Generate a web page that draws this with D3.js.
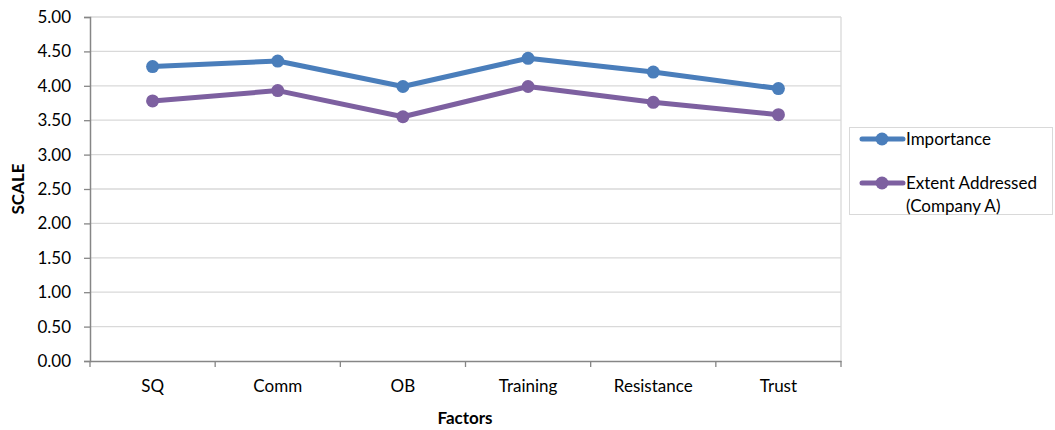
<!DOCTYPE html>
<html><head><meta charset="utf-8">
<script src="https://cdn.jsdelivr.net/npm/d3@7"></script>
<style>body{margin:0;background:#fff}svg{display:block}text{font-family:Lato,"Open Sans",sans-serif}</style>
</head><body>
<svg id="c" width="1055" height="430"></svg>
<script>
const categories = ["SQ","Comm","OB","Training","Resistance","Trust"];
const importance = [4.28, 4.36, 3.99, 4.40, 4.20, 3.96];
const extent = [3.78, 3.93, 3.55, 3.99, 3.76, 3.58];
const yTicks = [0,0.5,1,1.5,2,2.5,3,3.5,4,4.5,5];
const seriesNames = ["Importance","Extent Addressed (Company A)"];
const colors = ["#4a7ebb","#7d60a0"];

const FS = 17;
const svg = d3.select("#c");
const L=90, R=841, T=17, B=361;
const x = d3.scaleBand().domain(categories).range([L,R]);
const y = d3.scaleLinear().domain([0,5]).range([B,T]);

// gridlines
svg.append("g").selectAll("line").data(yTicks.filter(d=>d>0)).join("line")
  .attr("x1",L).attr("x2",R).attr("y1",d=>y(d)).attr("y2",d=>y(d))
  .attr("stroke","#d9d9d9").attr("stroke-width",1.3);
svg.append("line").attr("x1",R).attr("x2",R).attr("y1",T).attr("y2",B).attr("stroke","#d9d9d9").attr("stroke-width",1.3);

// y axis
const ya = svg.append("g").attr("transform",`translate(${L},0)`)
  .call(d3.axisLeft(y).tickValues(yTicks).tickFormat(d3.format(".2f")).tickSize(6).tickPadding(13));
ya.select(".domain").attr("stroke","#868686").attr("stroke-width",1.5);
ya.selectAll(".tick line").attr("stroke","#868686").attr("stroke-width",1.3);
ya.selectAll("text").attr("font-size",FS).attr("fill","#000").style("font-family","Lato,sans-serif");

// x axis
const xa = svg.append("g").attr("transform",`translate(0,${B})`)
  .call(d3.axisBottom(x).tickSize(0).tickPadding(19));
xa.select(".domain").attr("stroke","#868686").attr("stroke-width",1.5);
xa.selectAll("text").attr("font-size",FS).attr("fill","#000").style("font-family","Lato,sans-serif");
const bounds = categories.map(c=>x(c)).concat([R]);
svg.append("g").selectAll("line").data(bounds).join("line")
  .attr("x1",d=>d).attr("x2",d=>d).attr("y1",B).attr("y2",B+6)
  .attr("stroke","#868686").attr("stroke-width",1.3);

// series
const data = [importance, extent];
const line = d3.line().x((d,i)=>x(categories[i])+x.bandwidth()/2).y(d=>y(d));
data.forEach((s,k)=>{
  svg.append("path").datum(s).attr("d",line).attr("fill","none")
    .attr("stroke",colors[k]).attr("stroke-width",5).attr("stroke-linejoin","round");
  svg.append("g").selectAll("circle").data(s).join("circle")
    .attr("cx",(d,i)=>x(categories[i])+x.bandwidth()/2).attr("cy",d=>y(d)).attr("r",6.5)
    .attr("fill",colors[k]);
});

// axis titles
svg.append("text").attr("x",465).attr("y",424).attr("text-anchor","middle")
  .attr("font-size",FS).attr("font-weight","bold").text("Factors");
svg.append("text").attr("transform","translate(24,189) rotate(-90)").attr("text-anchor","middle")
  .attr("font-size",FS).attr("font-weight","bold").text("SCALE");

// legend
const lg = svg.append("g");
lg.append("rect").attr("x",849.5).attr("y",127.5).attr("width",203).attr("height",87)
  .attr("fill","#fff").attr("stroke","#d9d9d9").attr("stroke-width",1);
const ly = [139, 183];
[0,1].forEach(k=>{
  lg.append("line").attr("x1",862).attr("x2",903).attr("y1",ly[k]).attr("y2",ly[k])
    .attr("stroke",colors[k]).attr("stroke-width",5).attr("stroke-linecap","round");
  lg.append("circle").attr("cx",882).attr("cy",ly[k]).attr("r",6.5).attr("fill",colors[k]);
});
lg.append("text").attr("x",906).attr("y",ly[0]+6).attr("font-size",FS).text(seriesNames[0]);
const t2 = lg.append("text").attr("x",906).attr("y",ly[1]+6).attr("font-size",FS);
t2.append("tspan").attr("x",906).text("Extent Addressed");
t2.append("tspan").attr("x",906).attr("dy",23).text("(Company A)");
</script>
</body></html>
